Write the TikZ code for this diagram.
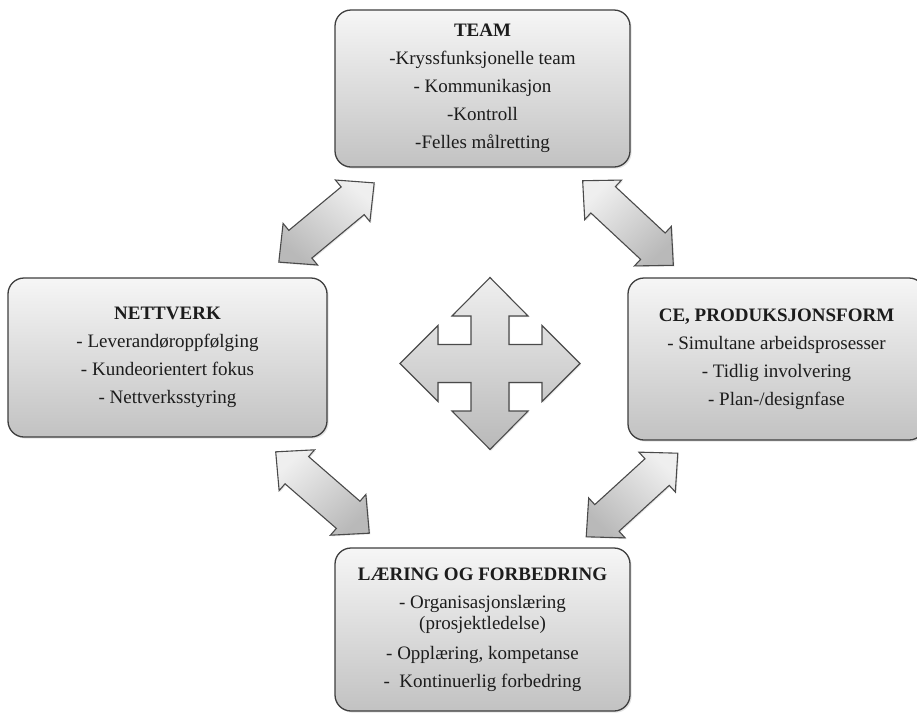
\documentclass[tikz,border=0pt]{standalone}
\usepackage{fontspec}
\setmainfont{Liberation Serif}
\usetikzlibrary{shadows}

\definecolor{edgegray}{HTML}{3E3E3E}
\definecolor{arrowedge}{HTML}{4A4A4A}
\definecolor{panelTop}{HTML}{F6F6F6}
\definecolor{panelBottom}{HTML}{C2C2C2}
\definecolor{arrowTop}{HTML}{EFEFEF}
\definecolor{arrowBottom}{HTML}{B9B9B9}
\definecolor{inktext}{HTML}{1C1C1C}

\tikzset{
  panel/.style={
    draw=edgegray, line width=1.3pt, rounded corners=16pt,
    top color=panelTop, bottom color=panelBottom,
    drop shadow={shadow xshift=1.6pt, shadow yshift=-1.6pt, opacity=0.22},
    align=center, text=inktext, inner sep=0pt,
    font=\fontsize{19}{28}\selectfont
  },
  arrowshape/.style={
    draw=arrowedge, line width=1.1pt, line join=miter,
    top color=arrowTop, bottom color=arrowBottom,
    drop shadow={shadow xshift=1.2pt, shadow yshift=-1.2pt, opacity=0.2}
  },
  % two-headed block arrow along the local x axis; #1 keeps the gradient vertical
  pics/dblarrow/.style={code={
    \draw[arrowshape, shading angle=#1]
      (62,0) -- (34,27) -- (34,18) -- (-34,18) -- (-34,27) -- (-62,0)
      -- (-34,-27) -- (-34,-18) -- (34,-18) -- (34,-27) -- cycle;
  }}
}

\begin{document}
\begin{tikzpicture}[x=1pt, y=-1pt]
  \useasboundingbox (0,0) rectangle (917,713);

  % four theme panels
  \node[panel, minimum width=295pt, minimum height=157pt] (team) at (482.5,88.5)
    {\textbf{TEAM}\\-Kryssfunksjonelle team\\- Kommunikasjon\\-Kontroll\\-Felles målretting};
  \node[panel, minimum width=319pt, minimum height=159pt] (nett) at (167.5,357.5)
    {\textbf{NETTVERK}\\- Leverandøroppfølging\\- Kundeorientert fokus\\- Nettverksstyring};
  \node[panel, minimum width=297pt, minimum height=162pt] (ce) at (776.5,359)
    {\textbf{CE, PRODUKSJONSFORM}\\- Simultane arbeidsprosesser\\- Tidlig involvering\\- Plan-/designfase};
  \node[panel, minimum width=295pt, minimum height=163pt] (laering) at (482.5,629.5)
    {\textbf{LÆRING OG FORBEDRING}\\- Organisasjonslæring\\[-7pt](prosjektledelse)\\[2pt]- Opplæring, kompetanse\\-~~Kontinuerlig forbedring};

  % two-headed arrows between neighbouring panels
  \pic[rotate=39.7]  (nett-team)    at (326.5,222.5) {dblarrow=-39.7};
  \pic[rotate=-43]   (team-ce)      at (628,223)     {dblarrow=43};
  \pic[rotate=-41]   (nett-laering) at (322.5,492.5) {dblarrow=41};
  \pic[rotate=42.4]  (laering-ce)   at (632,495)     {dblarrow=-42.4};

  % four-way arrow in the middle
  \draw[arrowshape]
    (490,277.5) -- (528,316) -- (509,316) -- (509,344.5) -- (542,344.5)
    -- (542,325.5) -- (580,363.5) -- (542,401.5) -- (542,382.5) -- (509,382.5)
    -- (509,411) -- (528,411) -- (490,449.5) -- (452,411) -- (471,411)
    -- (471,382.5) -- (438,382.5) -- (438,401.5) -- (400,363.5) -- (438,325.5)
    -- (438,344.5) -- (471,344.5) -- (471,316) -- (452,316) -- cycle;
\end{tikzpicture}
\end{document}
